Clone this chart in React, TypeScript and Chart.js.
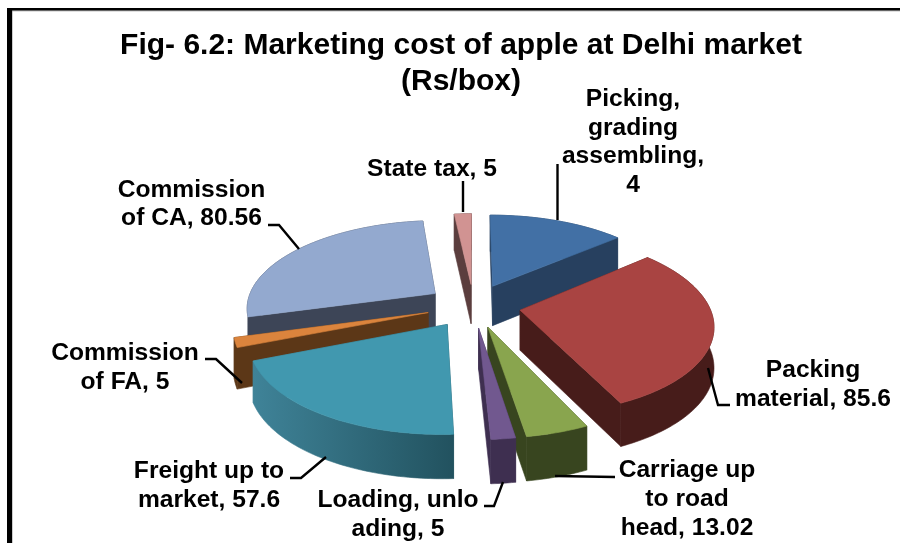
import React, { useEffect, useRef } from "react";
import { Chart, registerables } from "chart.js";

Chart.register(...registerables);

const categories = [
  "Picking, grading assembling",
  "Packing material",
  "Carriage up to road head",
  "Loading, unloading",
  "Freight up to market",
  "Commission of FA",
  "Commission of CA",
  "State tax",
];
const sliceValues = [40, 85.6, 13.02, 5, 57.6, 5, 80.56, 5];
const topColors = ["#4270A5", "#A94442", "#89A54E", "#71588F", "#4198AF", "#DB843D", "#93A9CF", "#D19392"];
const sideColors = ["#27405F", "#471C1A", "#38451F", "#3E2F50", "#3F8398", "#5C3717", "#3D4557", "#5B3E3E"];
const sideColorsEnd = ["#27405F", "#471C1A", "#38451F", "#3E2F50", "#22525F", "#5C3717", "#3D4557", "#5B3E3E"];
const titleLines = ["Fig- 6.2: Marketing cost of apple at Delhi market", "(Rs/box)"];
const labelLines = [
  ["Picking,", "grading", "assembling,", "4"],
  ["Packing", "material, 85.6"],
  ["Carriage up", "to road", "head, 13.02"],
  ["Loading, unlo", "ading, 5"],
  ["Freight up to", "market, 57.6"],
  ["Commission", "of FA, 5"],
  ["Commission", "of CA, 80.56"],
  ["State tax, 5"],
];

// Layout of the text and leaders (not data)
const labelPlace = [
  { x: 633, y: 106, lh: 28.7 },
  { x: 813, y: 377, lh: 29 },
  { x: 687, y: 477, lh: 29 },
  { x: 398, y: 507, lh: 29 },
  { x: 209, y: 478, lh: 29 },
  { x: 125, y: 360, lh: 29 },
  { x: 191.5, y: 197, lh: 28 },
  { x: 432, y: 176, lh: 29 },
];
const leaders = [
  [[557.5, 164], [557.5, 220]],
  [[708, 368], [718, 405], [730, 405]],
  [[555, 476], [615, 477]],
  [[484, 506], [494, 506], [503, 482]],
  [[290, 478], [301, 478], [326, 457]],
  [[205, 359], [216, 359], [242, 383]],
  [[268, 225], [279, 225], [299, 249]],
  [[463, 181], [463, 212]],
];
const drawOrder = [6, 7, 0, 1, 5, 4, 2, 3];

const VIEW = { cx: 473.5, cy: 305.5, rx: 189, ry: 87.2, persp: 0.15, depth: 40, depthPersp: 0.08, unit: 200 };
const FONT = "Liberation Sans";

function project(u: number, v: number) {
  const w = 1 + VIEW.persp * v;
  const d = VIEW.depth / (1 + VIEW.depthPersp * v);
  return { x: VIEW.cx + (VIEW.rx * u) / w, y: VIEW.cy - (VIEW.ry * v) / w, d };
}

function fillPath(ctx: any, pts: { x: number; y: number }[], color: any) {
  ctx.beginPath();
  pts.forEach((p, i) => (i ? ctx.lineTo(p.x, p.y) : ctx.moveTo(p.x, p.y)));
  ctx.closePath();
  ctx.fillStyle = color;
  ctx.strokeStyle = color;
  ctx.lineWidth = 0.6;
  ctx.fill();
  ctx.stroke();
}

const pie3d = {
  id: "pie3d",
  beforeDraw(chart: any) {
    const ctx = chart.ctx;
    ctx.save();
    ctx.fillStyle = "#fff";
    ctx.fillRect(0, 0, chart.width, chart.height);
    ctx.fillStyle = "#000";
    ctx.fillRect(7, 8, 893, 2.6);
    ctx.fillRect(7, 8, 5.2, 535);
    ctx.fillStyle = "#666";
    ctx.fillRect(12.2, 10.6, 888, 0.6);
    ctx.restore();
  },
  beforeDatasetDraw(chart: any, args: any) {
    const ctx = chart.ctx;
    const arcs = chart.getDatasetMeta(args.index).data;
    ctx.save();
    drawOrder.forEach((i) => {
      const arc = arcs[i];
      const { startAngle, endAngle } = arc;
      const mid = (startAngle + endAngle) / 2;
      const off = (arc.options.offset || 0) / VIEW.unit;
      const u0 = off * Math.cos(mid);
      const v0 = -off * Math.sin(mid);
      const apex = project(u0, v0);
      const rim: any[] = [];
      const n = Math.max(4, Math.ceil((endAngle - startAngle) / 0.02));
      for (let k = 0; k <= n; k++) {
        const a = startAngle + ((endAngle - startAngle) * k) / n;
        rim.push(project(u0 + Math.cos(a), v0 - Math.sin(a)));
      }
      const low = (p: any) => ({ x: p.x, y: p.y + p.d });
      const xs = rim.map((p) => p.x);
      const g = ctx.createLinearGradient(Math.min(...xs), 0, Math.max(...xs), 0);
      g.addColorStop(0, sideColors[i]);
      g.addColorStop(1, sideColorsEnd[i]);
      // cut faces, outer wall, then the top
      fillPath(ctx, [apex, rim[0], low(rim[0]), low(apex)], g);
      fillPath(ctx, [apex, rim[n], low(rim[n]), low(apex)], g);
      fillPath(ctx, [...rim, ...rim.map(low).reverse()], g);
      fillPath(ctx, [apex, ...rim], arc.options.backgroundColor);
    });
    ctx.restore();
    return false;
  },
  afterDatasetsDraw(chart: any) {
    const ctx = chart.ctx;
    ctx.save();
    ctx.strokeStyle = "#000";
    ctx.lineWidth = 2.4;
    leaders.forEach((line) => {
      ctx.beginPath();
      line.forEach(([x, y], i) => (i ? ctx.lineTo(x, y) : ctx.moveTo(x, y)));
      ctx.stroke();
    });
    ctx.fillStyle = "#000";
    ctx.font = `bold 24.6px "${FONT}"`;
    ctx.textAlign = "center";
    ctx.textBaseline = "alphabetic";
    labelLines.forEach((lines, i) => {
      const p = labelPlace[i];
      lines.forEach((t, j) => ctx.fillText(t, p.x, p.y + j * p.lh));
    });
    ctx.restore();
  },
};

export default function App() {
  const ref = useRef<HTMLCanvasElement | null>(null);
  useEffect(() => {
    const chart = new Chart(ref.current as any, {
      type: "pie",
      data: {
        labels: categories,
        datasets: [
          {
            data: sliceValues,
            backgroundColor: topColors,
            borderWidth: 0,
            offset: 50,
          },
        ],
      },
      plugins: [pie3d],
      options: {
        animation: false,
        responsive: false,
        layout: { padding: { left: 22 } },
        plugins: {
          legend: { display: false },
          tooltip: { enabled: false },
          title: {
            display: true,
            text: titleLines,
            color: "#000",
            font: { family: FONT, size: 30, weight: "bold", lineHeight: 1.2 },
            padding: { top: 28, bottom: 0 },
          },
        },
      },
    } as any);
    return () => chart.destroy();
  }, []);
  return (
    <div style={{ position: "absolute", left: 0, top: 0, width: 900, height: 543, overflow: "hidden" }}>
      <canvas ref={ref} width={900} height={543} style={{ display: "block" }} />
    </div>
  );
}
